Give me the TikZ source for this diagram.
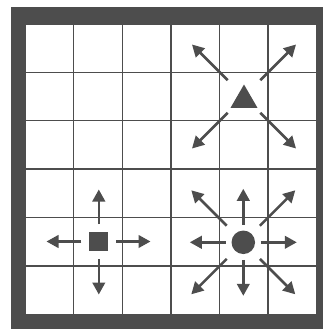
\documentclass[tikz,border=0pt]{standalone}
\usetikzlibrary{arrows.meta,shapes.geometric}
\definecolor{ink}{HTML}{4D4D4D}
\begin{document}
\begin{tikzpicture}[x=1pt,y=-1pt,
  gridline/.style={draw=ink,line width=1.4pt},
  arr/.style={draw=ink,line width=2.6pt,-{Triangle[length=12pt,width=12.5pt]}},
  piece/.style={fill=ink,draw=none,inner sep=0pt}]
\useasboundingbox (0,0) rectangle (323,329);
\fill[white] (0,0) rectangle (323,329);
\fill[ink] (11,7) rectangle (323,329);
\fill[white] (25,24) rectangle (316.6,314.2);
\foreach \i in {0,...,6} {
  \draw[gridline] ({25+48.6*\i},24) -- ({25+48.6*\i},314.2);
  \draw[gridline] (25,{24+48.37*\i}) -- (316.6,{24+48.37*\i});
}
% square piece
\node[piece,minimum width=19pt,minimum height=18.5pt] (sq) at (98.8,241.5) {};
\coordinate (sqU) at (98.8,189.5);
\coordinate (sqD) at (98.8,294.5);
\coordinate (sqL) at (46.5,241.5);
\coordinate (sqR) at (150.5,241.5);
\foreach \t in {sqU,sqD,sqL,sqR} \draw[arr,shorten <=17.5pt] (sq.center) -- (\t);
% circle piece
\node[piece,circle,minimum size=23.5pt] (ci) at (243.3,242.3) {};
\coordinate (ciU) at (243.3,188.8);
\coordinate (ciD) at (243.3,295.8);
\coordinate (ciL) at (189.8,242.3);
\coordinate (ciR) at (296.8,242.3);
\coordinate (ciUL) at (191.3,190.3);
\coordinate (ciUR) at (295.3,190.3);
\coordinate (ciDL) at (191.3,294.3);
\coordinate (ciDR) at (295.3,294.3);
\foreach \t in {ciU,ciD,ciL,ciR} \draw[arr,shorten <=17.5pt] (ci.center) -- (\t);
\foreach \t in {ciUL,ciUR,ciDL,ciDR} \draw[arr,shorten <=23.5pt] (ci.center) -- (\t);
% triangle piece
\node[piece,regular polygon,regular polygon sides=3,minimum size=31pt] (tr) at (244,100) {};
\coordinate (tc) at (244,96.5);
\coordinate (trUL) at (192,44.5);
\coordinate (trUR) at (296,44.5);
\coordinate (trDL) at (192,148.5);
\coordinate (trDR) at (296,148.5);
\foreach \t in {trUL,trUR,trDL,trDR} \draw[arr,shorten <=23pt] (tc) -- (\t);
\end{tikzpicture}
\end{document}
